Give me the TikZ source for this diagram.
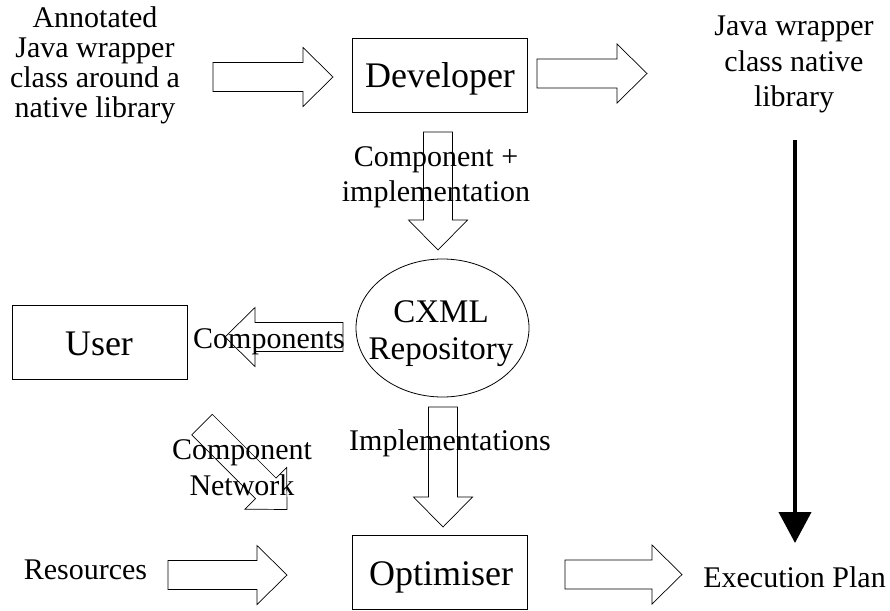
\documentclass[tikz,border=0pt]{standalone}
\usepackage{fontspec}
\setmainfont{Liberation Serif}
\usetikzlibrary{calc,arrows.meta,shapes.geometric}
\newcommand{\blockarrow}[2]{%
  \coordinate (hb) at ($(#2)!30pt!(#1)$);
  \draw[blockar] ($(#1)!14.5pt!90:(#2)$) -- ($(hb)!14.5pt!90:(#2)$) -- ($(hb)!29.5pt!90:(#2)$)
    -- (#2) -- ($(hb)!29.5pt!-90:(#2)$) -- ($(hb)!14.5pt!-90:(#2)$) -- ($(#1)!14.5pt!-90:(#2)$) -- cycle;}
\tikzset{
  blockar/.style={draw=black, line width=0.7pt, line join=miter},
  bigbox/.style={draw, line width=0.8pt, minimum width=175pt, minimum height=74pt, inner sep=0pt, font=\fontsize{36}{40}\selectfont},
  lbl/.style={inner sep=0pt, font=\fontsize{30}{30}\selectfont},
  bigtxt/.style={inner sep=0pt, font=\fontsize{36}{40}\selectfont},
}
\begin{document}
\begin{tikzpicture}[x=1pt,y=-1pt]
\useasboundingbox (0,0) rectangle (890,610);
% boxes
\node[bigbox] (dev) at (440,75) {};
\node[bigtxt, anchor=base] (devt) at (440,87) {Developer};
\node[bigbox] (user) at (100,342.5) {};
\node[bigtxt, anchor=base] (usert) at (99,355) {User};
\node[bigbox] (opt) at (440,572) {};
\node[bigtxt, anchor=base] (optt) at (441,585) {Optimiser};
\node[draw, line width=0.8pt, ellipse, minimum width=173pt, minimum height=138pt, inner sep=0pt] (repo) at (442.5,328) {};
\node[inner sep=0pt, align=center, font=\fontsize{33}{37}\selectfont] (repot) at (441,334) {CXML\\Repository};
% text labels
\node[lbl, align=center, font=\fontsize{30}{30}\selectfont] (annot) at (95,65) {Annotated\\Java wrapper\\class around a\\native library};
\node[lbl, align=center, font=\fontsize{30}{35.5}\selectfont] (jw) at (794,64.5) {Java wrapper\\class native\\library};
\node[lbl, align=center, font=\fontsize{30}{35}\selectfont] (ci) at (436,177.5) {Component +\\implementation};
\node[lbl, anchor=base] (comps) at (269,348) {Components};
\node[lbl, align=center, font=\fontsize{30}{36}\selectfont] (cn) at (242,468) {Component\\Network};
\node[lbl, anchor=base] (impls) at (450,450) {Implementations};
\node[lbl, anchor=base] (res) at (85.5,579) {Resources};
\node[lbl, anchor=base] (exec) at (794.5,587) {Execution Plan};
% arrow end points
\coordinate (a1s) at (213,77);  \coordinate (a1t) at (333,77);
\coordinate (a2s) at (537,73.5);\coordinate (a2t) at (647,73.5);
\coordinate (a3s) at (438,132); \coordinate (a3t) at (438,250);
\coordinate (a4s) at (343,337); \coordinate (a4t) at (225,337);
\coordinate (a5s) at (202,424.5); \coordinate (a5t) at (287,509.5);
\coordinate (a6s) at (443,407); \coordinate (a6t) at (443,527);
\coordinate (a7s) at (168,575); \coordinate (a7t) at (287,575);
\coordinate (a8s) at (565,574.5); \coordinate (a8t) at (682,574.5);
\blockarrow{a1s}{a1t}
\blockarrow{a2s}{a2t}
\blockarrow{a3s}{a3t}
\blockarrow{a4s}{a4t}
\blockarrow{a5s}{a5t}
\blockarrow{a6s}{a6t}
\blockarrow{a7s}{a7t}
\blockarrow{a8s}{a8t}
% thick arrow
\coordinate (jtop) at (795,140);
\coordinate (jbot) at (795,543);
\draw[line width=4pt, -{Triangle[length=31pt,width=32pt]}] (jtop) -- (jbot);
\end{tikzpicture}
\end{document}
